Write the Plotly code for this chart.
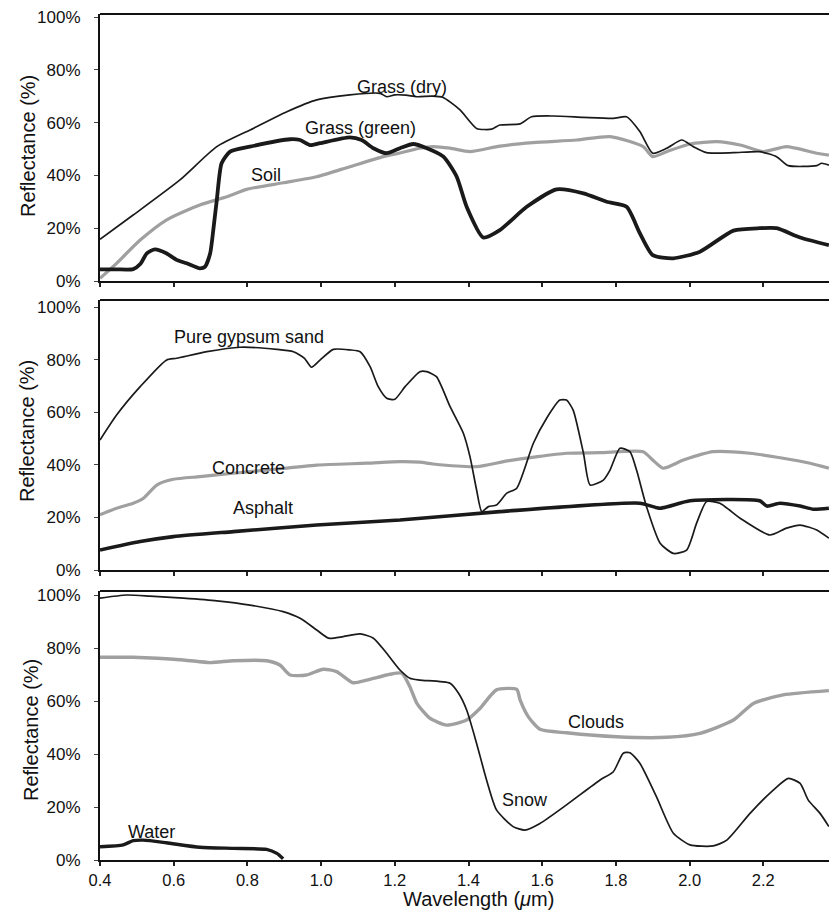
import plotly.graph_objects as go

# ---- spectral reflectance data (wavelength in micrometres, reflectance in %) ----
wl_dry = [0.40, 0.49, 0.617, 0.717, 0.816, 0.907, 0.988, 1.078, 1.16, 1.178, 1.20, 1.23, 1.26, 1.30,
          1.33, 1.377, 1.422, 1.463, 1.485, 1.54, 1.571, 1.63, 1.712, 1.793, 1.829, 1.865, 1.90, 1.938,
          1.979, 2.01, 2.046, 2.119, 2.19, 2.236, 2.268, 2.345, 2.358, 2.378]
r_dry = [15.8, 25.0, 38.3, 50.9, 57.8, 64.1, 68.6, 70.5, 71.1, 69.8, 70.5, 70.4, 69.8, 70.0,
         69.6, 64.8, 57.8, 57.5, 59.1, 59.5, 62.2, 62.5, 62.0, 61.6, 62.2, 56.6, 48.4, 50.3,
         53.4, 50.9, 48.6, 48.6, 49.0, 47.1, 43.7, 43.7, 44.6, 43.9]

wl_green = [0.40, 0.445, 0.49, 0.51, 0.527, 0.549, 0.58, 0.608, 0.635, 0.671, 0.685, 0.699, 0.708,
            0.717, 0.73, 0.753, 0.807, 0.916, 0.943, 0.97, 0.997, 1.078, 1.11, 1.142, 1.178, 1.214,
            1.25, 1.287, 1.332, 1.368, 1.395, 1.44, 1.485, 1.558, 1.639, 1.712, 1.775, 1.829, 1.865,
            1.90, 1.956, 2.028, 2.119, 2.19, 2.236, 2.30, 2.378]
r_green = [4.4, 4.4, 4.5, 6.5, 10.5, 12.0, 10.5, 8.0, 6.7, 4.8, 5.4, 10.5, 20.0,
           30.7, 44.6, 49.0, 50.9, 53.7, 53.4, 51.5, 52.2, 54.4, 53.4, 50.3, 48.4, 50.3,
           51.9, 50.3, 47.1, 39.5, 28.1, 16.5, 19.3, 28.1, 34.7, 33.2, 30.0, 28.1, 18.1,
           9.8, 8.6, 11.1, 19.1, 20.0, 20.0, 16.5, 13.6]

wl_soil = [0.40, 0.445, 0.509, 0.58, 0.671, 0.744, 0.798, 0.897, 0.988, 1.078, 1.169, 1.214, 1.268,
           1.304, 1.35, 1.404, 1.485, 1.575, 1.694, 1.784, 1.874, 1.90, 1.938, 2.001, 2.074, 2.137,
           2.20, 2.263, 2.345, 2.378]
r_soil = [1.0, 6.7, 15.5, 23.1, 28.8, 31.9, 34.7, 37.2, 39.5, 43.3, 47.1, 48.5, 50.3,
          50.9, 50.3, 49.0, 51.1, 52.4, 53.4, 54.7, 50.9, 47.1, 49.0, 51.9, 52.8, 51.5,
          49.0, 50.9, 48.4, 47.7]

wl_gyp = [0.40, 0.445, 0.509, 0.58, 0.608, 0.69, 0.78, 0.88, 0.925, 0.955, 0.974, 0.997, 1.033,
          1.078, 1.106, 1.133, 1.155, 1.178, 1.20, 1.228, 1.268, 1.287, 1.313, 1.35, 1.386, 1.404,
          1.422, 1.436, 1.454, 1.476, 1.504, 1.531, 1.576, 1.612, 1.648, 1.666, 1.684, 1.712, 1.73,
          1.766, 1.784, 1.811, 1.838, 1.856, 1.883, 1.92, 1.956, 1.992, 2.019, 2.046, 2.082, 2.137,
          2.218, 2.263, 2.30, 2.345, 2.378]
r_gyp = [49.4, 58.9, 69.7, 79.8, 80.5, 83.0, 84.7, 83.9, 83.0, 80.5, 77.1, 79.8, 83.9,
         83.7, 83.0, 77.3, 69.7, 65.3, 64.9, 69.7, 75.4, 75.4, 73.5, 62.1, 52.0, 43.1,
         30.4, 22.2, 24.1, 24.7, 29.2, 31.1, 48.2, 57.7, 64.6, 64.6, 60.8, 44.4, 32.3,
         34.2, 38.0, 46.3, 45.0, 38.0, 24.1, 10.2, 6.3, 7.6, 17.8, 26.0, 25.4, 19.7,
         13.3, 15.9, 17.1, 15.2, 12.1]

wl_con = [0.40, 0.445, 0.49, 0.518, 0.554, 0.599, 0.671, 0.762, 0.852, 0.988, 1.124, 1.214, 1.268,
          1.304, 1.422, 1.51, 1.666, 1.757, 1.874, 1.90, 1.928, 1.983, 2.064, 2.164, 2.254, 2.327, 2.378]
r_con = [21.0, 23.5, 25.4, 27.3, 32.3, 34.5, 35.5, 36.8, 38.0, 39.9, 40.6, 41.2, 41.0,
         40.3, 39.3, 41.6, 44.4, 44.6, 45.0, 41.8, 38.7, 41.8, 45.0, 44.4, 42.5, 40.6, 38.7]

wl_asp = [0.40, 0.509, 0.599, 0.762, 0.988, 1.214, 1.485, 1.865, 1.92, 2.001, 2.19, 2.21, 2.245,
          2.30, 2.336, 2.378]
r_asp = [7.6, 10.8, 12.7, 14.6, 17.1, 19.0, 22.2, 25.4, 23.5, 26.3, 26.3, 24.3, 25.4,
         24.3, 23.1, 23.5]

wl_snow = [0.40, 0.472, 0.535, 0.626, 0.717, 0.807, 0.897, 0.943, 0.988, 1.02, 1.06, 1.106, 1.142,
           1.178, 1.214, 1.241, 1.268, 1.35, 1.373, 1.395, 1.422, 1.449, 1.476, 1.521, 1.553, 1.594,
           1.666, 1.757, 1.793, 1.82, 1.838, 1.865, 1.91, 1.956, 2.001, 2.064, 2.101, 2.164, 2.227,
           2.268, 2.30, 2.322, 2.354, 2.378]
r_snow = [98.8, 100.0, 99.6, 98.8, 97.8, 96.2, 93.7, 91.2, 86.8, 83.7, 84.3, 85.3, 83.7,
          78.0, 71.7, 68.6, 67.9, 66.7, 62.9, 56.6, 44.0, 30.2, 18.9, 12.6, 11.3, 13.8,
          20.8, 30.2, 33.3, 40.3, 40.5, 36.5, 23.9, 10.1, 5.7, 5.3, 7.5, 17.6, 26.4,
          30.8, 28.9, 22.6, 17.6, 12.6]

wl_cld = [0.40, 0.49, 0.626, 0.699, 0.762, 0.852, 0.888, 0.916, 0.96, 1.006, 1.042, 1.087, 1.124,
          1.187, 1.219, 1.241, 1.26, 1.295, 1.341, 1.395, 1.431, 1.476, 1.531, 1.54, 1.562, 1.594,
          1.666, 1.802, 1.938, 2.028, 2.119, 2.173, 2.254, 2.378]
r_cld = [76.5, 76.5, 75.5, 74.5, 75.2, 75.2, 73.6, 69.8, 69.8, 72.0, 71.1, 66.9, 67.9,
         70.1, 70.5, 65.4, 59.1, 53.5, 50.9, 52.8, 57.2, 64.2, 64.4, 60.4, 54.1, 49.3,
         48.0, 46.5, 46.3, 47.8, 52.8, 59.1, 62.3, 63.9]

wl_wat = [0.40, 0.463, 0.49, 0.518, 0.58, 0.671, 0.762, 0.852, 0.88, 0.897]
r_wat = [5.0, 5.7, 7.3, 7.5, 6.5, 4.8, 4.4, 4.0, 2.5, 0.5]

x_ticks = [0.4, 0.6, 0.8, 1.0, 1.2, 1.4, 1.6, 1.8, 2.0, 2.2]
x_tick_text = ["0.4", "0.6", "0.8", "1.0", "1.2", "1.4", "1.6", "1.8", "2.0", "2.2"]
y_ticks = [0, 20, 40, 60, 80, 100]
y_tick_text = ["0%", "20%", "40%", "60%", "80%", "100%"]

FONT = "Liberation Sans, Arial, Helvetica, sans-serif"
BLACK = "#1a1a1a"
GREY = "#a0a0a0"

W, H = 829, 911


def ypx(p):
    """convert a pixel row (from top) into paper y"""
    return (H - p) / H


def sfx(i):
    """axis-id suffix: '' for the first panel, the number otherwise"""
    return "" if i == 1 else str(i)


fig = go.Figure()


def add_line(x, y, panel, color, width):
    fig.add_trace(go.Scatter(
        x=x, y=y, mode="lines", xaxis="x" + sfx(panel), yaxis="y" + sfx(panel),
        line=dict(color=color, width=width, shape="spline", smoothing=0.6),
        showlegend=False, hoverinfo="skip"))


# panel 1: vegetation and soil
add_line(wl_soil, r_soil, 1, GREY, 3.2)
add_line(wl_dry, r_dry, 1, BLACK, 1.7)
add_line(wl_green, r_green, 1, BLACK, 3.8)
# panel 2: gypsum, concrete, asphalt
add_line(wl_con, r_con, 2, GREY, 3.2)
add_line(wl_asp, r_asp, 2, BLACK, 3.6)
add_line(wl_gyp, r_gyp, 2, BLACK, 1.7)
# panel 3: snow, clouds, water
add_line(wl_cld, r_cld, 3, GREY, 3.4)
add_line(wl_snow, r_snow, 3, BLACK, 1.7)
add_line(wl_wat, r_wat, 3, BLACK, 3.4)

x_left = 100
x_max = 0.4 + (W - x_left) / 368.5

panels = {
    1: dict(bottom=281, top=14, per=2.64),
    2: dict(bottom=570, top=300, per=2.63),
    3: dict(bottom=860, top=591, per=2.65),
}

layout = dict(
    template="none",
    width=W, height=H, margin=dict(l=0, r=0, t=0, b=0, pad=0),
    paper_bgcolor="white", plot_bgcolor="white",
    font=dict(family=FONT, size=17, color="#111"),
    showlegend=False,
)

for i, p in panels.items():
    ytop = (p["bottom"] - p["top"]) / p["per"]
    layout["xaxis" + sfx(i)] = dict(
        domain=[x_left / W, 1], range=[0.4, x_max], anchor="y" + sfx(i), automargin=False,
        showgrid=False, zeroline=False, showline=True, linecolor="#111", linewidth=2,
        ticks="outside", ticklen=4, tickwidth=1.5, tickcolor="#222",
        tickvals=x_ticks, ticktext=x_tick_text, showticklabels=(i == 3),
        tickfont=dict(size=16.5, family=FONT, color="#111"), ticklabelstandoff=0,
    )
    layout["yaxis" + sfx(i)] = dict(
        domain=[ypx(p["bottom"]), ypx(p["top"])], range=[0, ytop], anchor="x" + sfx(i),
        automargin=False,
        showgrid=False, zeroline=False, showline=True, linecolor="#111", linewidth=2,
        ticks="outside", ticklen=4, tickwidth=1.2, tickcolor="#444",
        tickvals=y_ticks, ticktext=y_tick_text,
        tickfont=dict(size=17, family=FONT, color="#111"), ticklabelstandoff=10,
    )

fig.update_layout(**layout)

# top frame edge of every panel
for i in panels:
    fig.add_shape(type="line", xref="x" + sfx(i) + " domain", yref="y" + sfx(i) + " domain",
                  x0=0, x1=1, y0=1, y1=1, line=dict(color="#111", width=2))

# curve labels
labels = [
    (1, 1.22, 73.5, "Grass (dry)"),
    (1, 1.108, 58.0, "Grass (green)"),
    (1, 0.85, 40.2, "Soil"),
    (2, 0.804, 88.7, "Pure gypsum sand"),
    (2, 0.804, 38.8, "Concrete"),
    (2, 0.842, 23.6, "Asphalt"),
    (3, 0.541, 10.7, "Water"),
    (3, 1.747, 52.2, "Clouds"),
    (3, 1.553, 22.6, "Snow"),
]
for panel, x, y, text in labels:
    fig.add_annotation(x=x, y=y, xref="x" + sfx(panel), yref="y" + sfx(panel), text=text,
                       showarrow=False, xanchor="center", yanchor="middle",
                       font=dict(size=18, family=FONT, color="#111"))

# axis titles
for ycen, xcen in [(146, 28), (431, 27), (730, 31)]:
    fig.add_annotation(x=xcen / W, y=ypx(ycen), xref="paper", yref="paper",
                       text="Reflectance (%)", textangle=-90, showarrow=False,
                       xanchor="center", yanchor="middle",
                       font=dict(size=20, family=FONT, color="#111"))

fig.add_annotation(x=478 / W, y=0, xref="paper", yref="paper",
                   text="Wavelength (<i>μ</i>m)", showarrow=False,
                   xanchor="center", yanchor="bottom", borderpad=0,
                   font=dict(size=20, family=FONT, color="#111"))

fig.write_html("out.html")
